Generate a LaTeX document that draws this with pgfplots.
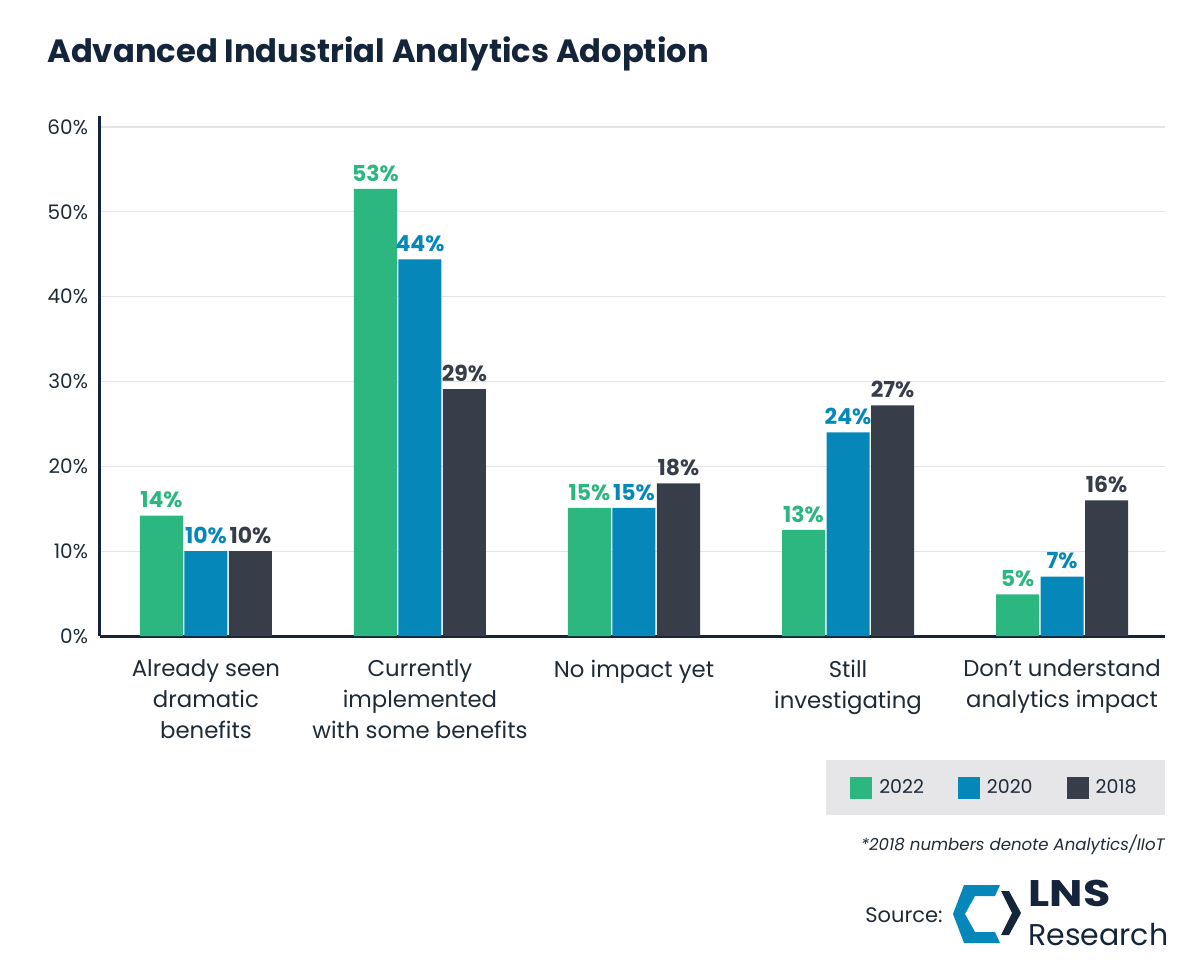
\documentclass[border=0pt]{standalone}
\usepackage{pgfplots}
\pgfplotsset{compat=1.18}
\usepackage{pgfplotstable}
\usepackage{fontspec}
\setmainfont{Poppins}
\definecolor{cgreen}{HTML}{2BB77F}
\definecolor{cblue}{HTML}{0587BA}
\definecolor{cdark}{HTML}{373E4A}
\definecolor{ctitle}{HTML}{14243A}
\definecolor{ctext}{HTML}{1F2A37}
\definecolor{cgrid}{HTML}{E4E4E4}
\definecolor{clegbg}{HTML}{E6E6E8}

\pgfplotstableread{
x y lab
0 14.2 14
1 52.7 53
2 15.1 15
3 12.5 13
4 4.9 5
}\tA
\pgfplotstableread{
x y lab
0 10.0 10
1 44.4 44
2 15.1 15
3 24.0 24
4 7.0 7
}\tB
\pgfplotstableread{
x y lab
0 10.0 10
1 29.1 29
2 18.0 18
3 27.2 27
4 16.0 16
}\tC

\begin{document}
\begin{tikzpicture}
\useasboundingbox (0,0) rectangle (600pt,-483.5pt);
\node[anchor=base west, inner sep=0pt, text=ctitle, font=\bfseries\fontsize{16.1}{18}\selectfont] at (23.5pt,-31.5pt) {Advanced Industrial Analytics Adoption};
\begin{axis}[
  at={(50pt,-318pt)}, anchor=south west,
  scale only axis, width=532.5pt, height=260pt,
  xmin=-0.495, xmax=4.481, ymin=0, ymax=61.3,
  axis x line*=bottom, axis y line*=left,
  axis line style={ctitle, line width=1.5pt},
  major tick length=0pt,
  ytick={0,10,...,60},
  yticklabel={\pgfmathprintnumber{\tick}\%},
  /pgf/number format/assume math mode=true,
  yticklabel style={font=\fontsize{10}{12}\selectfont, text=ctext, xshift=-2.5pt},
  ymajorgrids, grid style={cgrid, line width=0.6pt},
  xtick={0,1,2,3,4},
  xticklabels={{Already seen\\dramatic\\benefits},{Currently\\implemented\\with some benefits},{No impact yet},{Still\\investigating},{Don't understand\\analytics impact}},
  xticklabel style={font=\fontsize{11.4}{15.3}\selectfont, text=ctext, align=center, anchor=north, yshift=-8.5pt},
  ybar=0.75pt, bar width=21.5pt,
  point meta=explicit symbolic,
  nodes near coords={\pgfplotspointmeta\%},
  every node near coord/.append style={font=\bfseries\fontsize{11}{13}\selectfont, anchor=south, inner sep=0pt, yshift=3.5pt},
  legend image code/.code={\fill[#1,draw=none] (0pt,-5.5pt) rectangle (11pt,5.5pt);},
  legend style={at={(1,-0.238)}, anchor=north east, fill=clegbg, draw=none,
    font=\fontsize{9.5}{12}\selectfont, text=ctext, inner xsep=12pt, inner ysep=7.5pt,
    /tikz/every odd column/.append style={column sep=1.5pt},
    /tikz/every even column/.append style={column sep=15pt}},
  legend columns=3, legend cell align=left,
  clip=false,
]
\addplot[fill=cgreen, draw=none, every node near coord/.append style={text=cgreen}] table[x=x, y=y, meta=lab] {\tA};
\addplot[fill=cblue, draw=none, every node near coord/.append style={text=cblue}] table[x=x, y=y, meta=lab] {\tB};
\addplot[fill=cdark, draw=none, every node near coord/.append style={text=cdark}] table[x=x, y=y, meta=lab] {\tC};
\legend{2022,2020,2018}
\end{axis}
\node[anchor=base east, inner sep=0pt, text=ctext, font=\itshape\fontsize{8.3}{10}\selectfont] at (582.5pt,-425pt) {*2018 numbers denote Analytics/IIoT};
\node[anchor=base west, inner sep=0pt, text=ctext, font=\fontsize{10.5}{12}\selectfont] at (432.5pt,-461pt) {Source:};
\begin{scope}[x=0.5pt, y=-0.5pt]
\fill[cblue] (964,885) -- (1000,885) -- (995,896) -- (975,896) -- (965,914) -- (975,932) -- (995,932) -- (1000,943) -- (964,943) -- (953,914) -- cycle;
\fill[ctitle] (1001,891) -- (1009,891) -- (1021,913) -- (1009,935) -- (1001,935) -- (1012,913) -- cycle;
\end{scope}
\node[anchor=base west, inner sep=0pt, text=ctitle, font=\bfseries\fontsize{18.5}{20}\selectfont, xscale=1.2] at (514pt,-453pt) {LNS};
\node[anchor=base west, inner sep=0pt, text=ctitle, font=\fontsize{15}{17}\selectfont] at (514pt,-472.5pt) {Research};
\end{tikzpicture}
\end{document}
